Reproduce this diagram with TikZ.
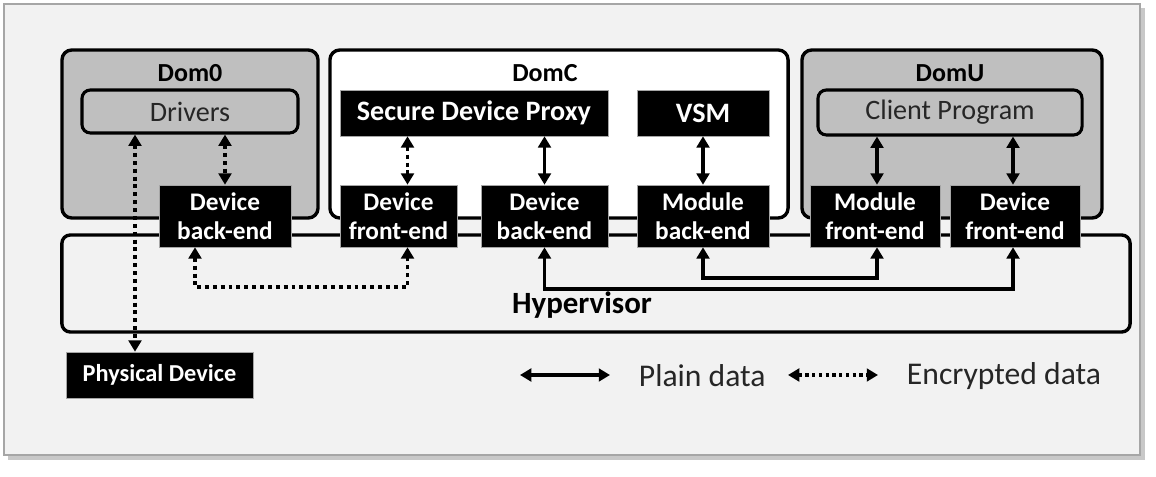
\documentclass[tikz,border=0pt]{standalone}
\usepackage{fontspec}
\setmainfont{Carlito}
\usetikzlibrary{arrows.meta,calc,positioning}
\definecolor{Canvas}{HTML}{F2F2F2}
\definecolor{Frame}{HTML}{A6A6A6}
\definecolor{Shade}{HTML}{C8C8C8}
\definecolor{DomGray}{HTML}{BFBFBF}
\definecolor{TextGray}{HTML}{262626}
\tikzset{
  dombox/.style={
    rounded corners=7pt, draw=black, line width=2.4pt, minimum height=4.2cm
  },
  appbox/.style={
    rounded corners=6pt, draw=black, line width=2.2pt, fill=DomGray,
    text=TextGray, font=\fontsize{20}{22}\selectfont
  },
  block/.style={
    fill=black, draw=Frame, line width=0.4pt, text=white, align=center,
    inner sep=0pt, font=\fontsize{18}{21}\selectfont\bfseries
  },
  domtitle/.style={font=\fontsize{18.5}{20}\selectfont\bfseries},
  legendtext/.style={anchor=west, text=TextGray, font=\fontsize{22.5}{24}\selectfont},
  link/.style={{Triangle[length=8pt,width=9pt]}-{Triangle[length=8pt,width=9pt]},
    line width=2.6pt, draw=black},
  enclink/.style={link, dash pattern=on 2.8pt off 2.8pt}
}
\begin{document}
\begin{tikzpicture}[x=0.025cm,y=-0.025cm]
  \useasboundingbox (0,0) rectangle (1156,477);
  % outer frame
  \fill[Shade] (8,8) rectangle (1145,460);
  \draw[Frame, fill=Canvas, line width=1pt] (4,4) rectangle (1140,455);

  % hypervisor and domains
  \node[dombox, fill=Canvas, rounded corners=6pt, minimum width=26.7cm,
    minimum height=2.425cm] (hyper) at (596,283.5) {};
  \node[font=\fontsize{22}{24}\selectfont\bfseries] (hyperlbl) at (582,305) {Hypervisor};
  \node[dombox, fill=DomGray, minimum width=6.4cm] (dom0) at (190,134) {};
  \node[dombox, fill=white, minimum width=11.45cm] (domC) at (559,134) {};
  \node[dombox, fill=DomGray, minimum width=7.5cm] (domU) at (952,134) {};
  \node[domtitle] (dom0lbl) at (190,73) {Dom0};
  \node[domtitle] (domClbl) at (545,73) {DomC};
  \node[domtitle] (domUlbl) at (950,73) {DomU};

  % components
  \node[appbox, minimum width=5.4cm, minimum height=1.075cm] (drivers) at (190,111.5) {Drivers};
  \node[appbox, minimum width=6.6cm, minimum height=1.125cm] (client) at (950,112.5) {Client Program};
  \node[block, minimum width=6.7cm, minimum height=1.15cm,
    font=\fontsize{20}{22}\selectfont\bfseries] (sdp) at (474,113) {Secure Device Proxy};
  \node[block, minimum width=3.3cm, minimum height=1.15cm,
    font=\fontsize{20}{22}\selectfont\bfseries] (vsm) at (703,113) {VSM};
  \node[block, minimum width=3.3cm, minimum height=1.55cm] (be0) at (225,216) {Device\\back-end};
  \node[block, minimum width=2.925cm, minimum height=1.55cm] (fec) at (398.5,216) {Device\\front-end};
  \node[block, minimum width=3.175cm, minimum height=1.55cm] (bec) at (544.5,216) {Device\\back-end};
  \node[block, minimum width=3.3cm, minimum height=1.55cm] (mbe) at (703,216) {Module\\back-end};
  \node[block, minimum width=3.25cm, minimum height=1.55cm] (mfe) at (875,216) {Module\\front-end};
  \node[block, minimum width=3.25cm, minimum height=1.55cm] (feu) at (1015,216) {Device\\front-end};
  \node[block, minimum width=4.675cm, minimum height=1.15cm,
    font=\fontsize{17.3}{19}\selectfont\bfseries] (phys) at (159.5,375) {Physical Device};

  % data paths
  \draw[enclink] (drivers.south -| be0) -- (be0.north);
  \draw[enclink] ($(drivers.south)+(-55,0)$) coordinate (drvtap) -- (drvtap |- phys.north);
  \draw[enclink] ($(be0.south)+(-30,0)$) -- ++(0,40) -| ($(fec.south)+(9,0)$);
  \draw[enclink] (sdp.south -| fec.south) ++(9,0) coordinate (sdptap) -- (sdptap |- fec.north);
  \draw[link] (sdp.south -| bec) -- (bec.north);
  \draw[link] (vsm.south) -- (mbe.north);
  \draw[link] ($(client.south -| mfe)+(2,0)$) coordinate (cltap) -- (cltap |- mfe.north);
  \draw[link] ($(client.south -| feu)+(-2,0)$) coordinate (cutap) -- (cutap |- feu.north);
  \draw[link] (mbe.south) -- ++(0,31) -| (cltap |- mfe.south);
  \draw[link] (bec.south) -- ++(0,42) -| (cutap |- feu.south);

  % legend
  \coordinate (plainA) at (520,375);
  \coordinate (plainB) at (610,375);
  \draw[link] (plainA) -- (plainB);
  \node[legendtext] (plainlbl) at (634,376) {Plain data};
  \coordinate (encA) at (788,375);
  \coordinate (encB) at (878,375);
  \draw[enclink, dash pattern=on 2.4pt off 2.4pt] (encA) -- (encB);
  \node[legendtext] (enclbl) at (902,376) {Encrypted data};
\end{tikzpicture}
\end{document}
